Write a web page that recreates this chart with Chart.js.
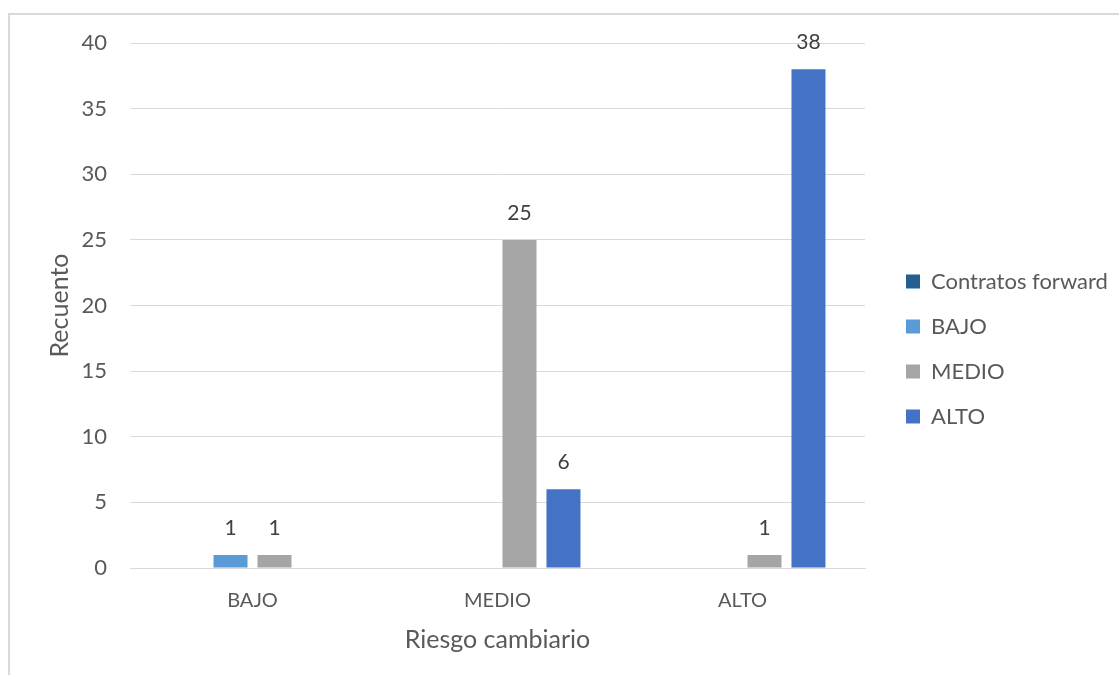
<!DOCTYPE html>
<html>
<head>
    <meta charset="utf-8"/>
    <title>Riesgo cambiario</title>
    <script src="https://cdn.jsdelivr.net/npm/chart.js@4.4.1/dist/chart.umd.min.js"></script>
    <style>
        body { margin: 0; background: #fff; }
        .frame {
            position: absolute; left: 8px; top: 13px;
            width: 1300px; height: 900px;
            border: 2px solid #d9d9d9;
        }
        .chart-container {
            position: absolute; left: 0; top: 0;
            width: 1119px; height: 675px;
        }
    </style>
</head>
<body>
    <div class="frame"></div>
    <div class="chart-container">
        <canvas id="myChart"></canvas>
    </div>
    <script>
        const categories = ['BAJO', 'MEDIO', 'ALTO'];
        const seriesNames = ['Contratos forward', 'BAJO', 'MEDIO', 'ALTO'];
        const forwardValues = [null, null, null];
        const bajoValues = [1, null, null];
        const medioValues = [1, 25, 1];
        const altoValues = [null, 6, 38];
        const yTicks = [0, 5, 10, 15, 20, 25, 30, 35, 40];

        const colors = ['#255e91', '#5b9bd5', '#a5a5a5', '#4472c4'];
        const textColor = '#595959';
        const gridColor = '#d9d9d9';
        const fontFamily = 'Lato, "Open Sans", sans-serif';

        // value labels above the bars
        const valueLabels = {
            id: 'valueLabels',
            afterDatasetsDraw(chart) {
                const ctx = chart.ctx;
                ctx.save();
                ctx.font = '21px ' + fontFamily;
                ctx.fillStyle = '#404040';
                ctx.textAlign = 'center';
                ctx.textBaseline = 'middle';
                chart.data.datasets.forEach((ds, i) => {
                    const meta = chart.getDatasetMeta(i);
                    meta.data.forEach((bar, j) => {
                        const v = ds.data[j];
                        if (v == null || v === 0) return;
                        ctx.fillText(String(v), bar.x, bar.y - 27);
                    });
                });
                ctx.restore();
            }
        };

        // legend placement like the original
        const legendPlace = {
            id: 'legendPlace',
            beforeInit(chart) {
                const lg = chart.legend;
                const origFit = lg.fit;
                lg.fit = function () {
                    origFit.call(this);
                    this.width = 254;
                };
            },
            afterLayout(chart) {
                const lg = chart.legend;
                const h = lg.bottom - lg.top;
                lg.left = 883;
                lg.right = 1119;
                lg.top = 33;
                lg.bottom = 33 + h;
            }
        };

        const datasets = [forwardValues, bajoValues, medioValues, altoValues].map((vals, i) => ({
            label: seriesNames[i],
            data: vals,
            backgroundColor: colors[i],
            borderWidth: 0,
            categoryPercentage: 0.718,
            barPercentage: 0.773
        }));

        const ctx = document.getElementById('myChart').getContext('2d');
        const myChart = new Chart(ctx, {
            type: 'bar',
            data: { labels: categories, datasets: datasets },
            plugins: [valueLabels, legendPlace],
            options: {
                responsive: true,
                maintainAspectRatio: false,
                animation: false,
                layout: { padding: { top: 43, left: 0, right: 0, bottom: 0 } },
                plugins: {
                    tooltip: { enabled: false },
                    legend: {
                        position: 'right',
                        align: 'center',
                        labels: {
                            boxWidth: 14,
                            boxHeight: 14,
                            padding: 23,
                            color: textColor,
                            font: { family: fontFamily, size: 22 }
                        }
                    }
                },
                scales: {
                    x: {
                        grid: { display: false, drawTicks: false },
                        border: { display: true, color: gridColor, width: 1 },
                        ticks: {
                            color: textColor,
                            padding: 21,
                            font: { family: fontFamily, size: 20 }
                        },
                        title: {
                            display: true,
                            text: 'Riesgo cambiario',
                            color: textColor,
                            padding: { top: 0, bottom: 20 },
                            font: { family: fontFamily, size: 25 }
                        },
                        afterFit(scale) { scale.height = 107; }
                    },
                    y: {
                        min: 0,
                        max: 40,
                        grid: { color: gridColor, drawTicks: false },
                        border: { display: false },
                        afterBuildTicks(scale) {
                            scale.ticks = yTicks.map(v => ({ value: v }));
                        },
                        ticks: {
                            color: textColor,
                            padding: 23,
                            font: { family: fontFamily, size: 22 }
                        },
                        title: {
                            display: true,
                            text: 'Recuento',
                            color: textColor,
                            padding: { top: 45, bottom: 0 },
                            font: { family: fontFamily, size: 25 }
                        },
                        afterFit(scale) { scale.width = 130; }
                    }
                }
            }
        });
    </script>
</body>
</html>
